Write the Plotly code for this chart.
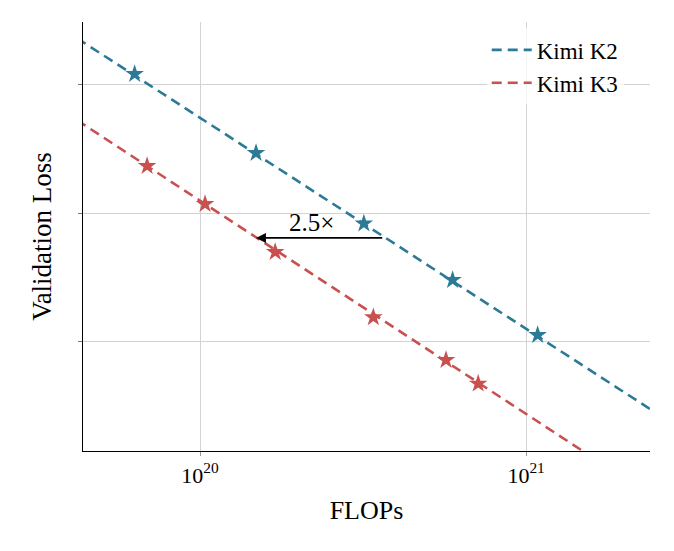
"""Validation loss vs. training FLOPs for Kimi K2 / K3 (log-x scaling plot)."""
import math

import plotly.graph_objects as go

# ---- data ----
k2_flops = [6.3e19, 1.485e20, 3.18e20, 5.95e20, 1.085e21]
k2_loss = [2.4086, 2.3469, 2.2917, 2.2477, 2.2047]

k3_flops = [6.88e19, 1.036e20, 1.70e20, 3.40e20, 5.68e20, 7.13e20]
k3_loss = [2.3367, 2.3070, 2.2695, 2.2185, 2.1852, 2.1667]

# dashed fit lines (endpoints, clipped by the axes)
fit_flops = [3.16e19, 3.16e21]
k2_fit_loss = [2.4568, 2.1272]
k3_fit_loss = [2.3930, 2.0598]

# "2.5x" compute-saving arrow
arrow_flops = [1.485e20, 3.66e20]
arrow_loss = 2.2805
arrow_label = "2.5×"
arrow_label_flops = 2.19e20
arrow_label_loss = 2.2922

x_ticks = [1e20, 1e21]
x_tick_text = ["10<sup>20</sup>", "10<sup>21</sup>"]
y_ticks = [2.2, 2.3, 2.4]

TEAL = "#2c7a96"
RED = "#c8504f"
FONT = "Liberation Serif"

fig = go.Figure()

for name, color, fx, fy, px_, py_ in [
    ("Kimi K2", TEAL, fit_flops, k2_fit_loss, k2_flops, k2_loss),
    ("Kimi K3", RED, fit_flops, k3_fit_loss, k3_flops, k3_loss),
]:
    fig.add_trace(go.Scatter(
        x=fx, y=fy, mode="lines", name=name,
        line=dict(color=color, width=2.6, dash="10px,6px"),
    ))
    fig.add_trace(go.Scatter(
        x=px_, y=py_, mode="markers", showlegend=False,
        marker=dict(symbol="star", size=14, color=color, line=dict(width=0)),
    ))

# arrow (head at the K3 side) and its label
fig.add_annotation(
    x=math.log10(arrow_flops[0]), y=arrow_loss,
    ax=math.log10(arrow_flops[1]), ay=arrow_loss,
    xref="x", yref="y", axref="x", ayref="y",
    text="", showarrow=True, arrowhead=2, arrowsize=1.1,
    arrowwidth=1.8, arrowcolor="black",
)
fig.add_annotation(
    x=math.log10(arrow_label_flops), y=arrow_label_loss,
    xref="x", yref="y",
    text=arrow_label, showarrow=False,
    font=dict(family=FONT, size=25, color="black"),
)

# the page body has an 8px margin, so the figure is 8px smaller each way
fig.update_layout(
    width=666, height=543,
    margin=dict(l=75, r=24, t=14, b=100),
    paper_bgcolor="white", plot_bgcolor="white",
    font=dict(family=FONT, color="black"),
    showlegend=True,
    legend=dict(
        x=0.712, y=0.985, xanchor="left", yanchor="top",
        bgcolor="rgba(255,255,255,0.75)", borderwidth=0,
        font=dict(family=FONT, size=23),
        itemwidth=40, tracegroupgap=0,
    ),
)

fig.update_xaxes(
    type="log",
    range=[19.641, 21.380],
    tickvals=x_ticks, ticktext=x_tick_text,
    tickfont=dict(family=FONT, size=22),
    ticks="outside", ticklen=4, tickcolor="#999999",
    showgrid=True, gridcolor="#d3d3d3", gridwidth=0.8,
    showline=True, linecolor="black", linewidth=1.3,
    zeroline=False,
    title=dict(text="FLOPs", font=dict(family=FONT, size=26), standoff=14),
)
fig.update_yaxes(
    range=[2.1141, 2.4492],
    tickvals=y_ticks, showticklabels=False,
    ticks="outside", ticklen=4, tickcolor="#777777",
    showgrid=True, gridcolor="#d3d3d3", gridwidth=0.8,
    showline=True, linecolor="black", linewidth=1.3,
    zeroline=False,
    title=dict(text="Validation Loss", font=dict(family=FONT, size=27), standoff=18),
)

fig.write_html("out.html")
